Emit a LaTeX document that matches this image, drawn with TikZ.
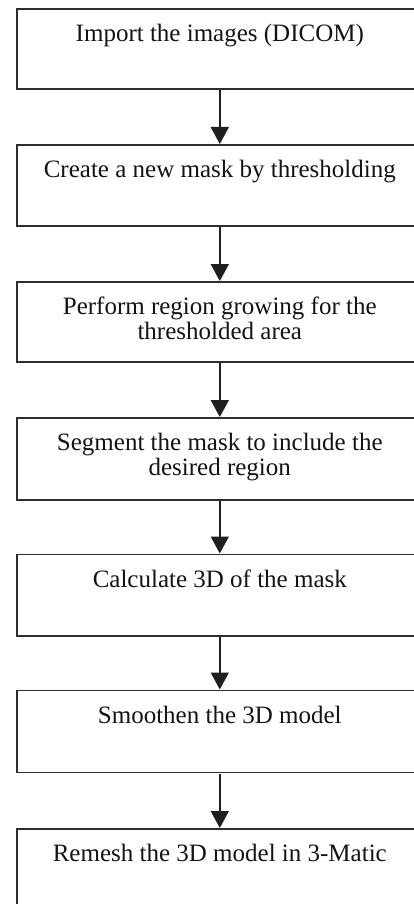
\documentclass[tikz,border=0pt]{standalone}
\usepackage{fontspec}
\setmainfont{Liberation Serif}
\usetikzlibrary{arrows.meta}

% Box content: fixed-height, top-aligned paragraph with the first baseline 33pt down
\newcommand{\stepbody}[2]{%
  \parbox[t][#1][t]{406pt}{\fontsize{25pt}{25pt}\selectfont\centering\rule{0pt}{33pt}#2}}

\begin{document}
\begin{tikzpicture}[x=1pt, y=-1pt,
  stepbox/.style={draw=black!82, line width=1.6pt, inner sep=0pt,
    anchor=north west, text=black!92},
  flowarrow/.style={draw=black!88, line width=1.6pt,
    -{Triangle[length=17pt, width=18pt]}, shorten <=0.75pt}]
  \useasboundingbox (0,0) rectangle (414,904);
  \clip (0,0) rectangle (414,904);
  \fill[white] (0,0) rectangle (414,904);

  \node[stepbox] (s1) at (16,8)     {\stepbody{80pt}{Import the images (DICOM)}};
  \node[stepbox] (s2) at (16,144)   {\stepbody{81pt}{Create a new mask by thresholding}};
  \node[stepbox] (s3) at (16,281)   {\stepbody{80pt}{Perform region growing for the\\thresholded area}};
  \node[stepbox] (s4) at (16,417)   {\stepbody{82pt}{Segment the mask to include the\\desired region}};
  \node[stepbox] (s5) at (16,553.5) {\stepbody{81.5pt}{Calculate 3D of the mask}};
  \node[stepbox] (s6) at (16,689.5) {\stepbody{82pt}{Smoothen the 3D model}};
  \node[stepbox] (s7) at (16,828)   {\stepbody{81pt}{Remesh the 3D model in 3-Matic}};

  \draw[flowarrow] (s1) -- (s2);
  \draw[flowarrow] (s2) -- (s3);
  \draw[flowarrow] (s3) -- (s4);
  \draw[flowarrow] (s4) -- (s5);
  \draw[flowarrow] (s5) -- (s6);
  \draw[flowarrow] (s6) -- (s7);
\end{tikzpicture}
\end{document}
